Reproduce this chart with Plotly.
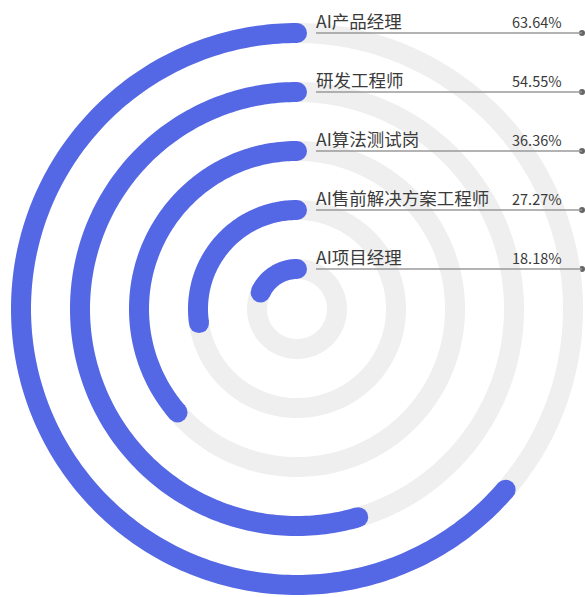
import numpy as np
import plotly.graph_objects as go

# Data (outermost ring first)
roles = ["AI产品经理", "研发工程师", "AI算法测试岗", "AI售前解决方案工程师", "AI项目经理"]
shares = [63.64, 54.55, 36.36, 27.27, 18.18]

W, H = 585, 597
CX, CY = 297, 309          # polar centre in pixels (from top-left)
INNER_PX = 40              # radius of innermost ring, px
STEP_PX = 59               # ring spacing, px
R_PX = 287                 # radius of the polar area, px
BAND = 20                  # ring thickness, px

BLUE = "#5468E6"
TRACK = "#EFEFEF"

# radial value k (1 = innermost) -> pixel radius INNER_PX + (k-1)*STEP_PX
r0 = 1 - INNER_PX / STEP_PX
r1 = r0 + R_PX / STEP_PX

fig = go.Figure()

n = len(roles)
for i, (name, pct) in enumerate(zip(roles, shares)):
    k = n - i  # outermost ring gets the largest radial value
    # background track
    th_full = np.linspace(0, 360, 361)
    fig.add_trace(go.Scatterpolar(
        r=[k] * len(th_full), theta=th_full, mode="lines",
        line=dict(color=TRACK, width=BAND), hoverinfo="skip",
        showlegend=False, cliponaxis=False))
for i, (name, pct) in enumerate(zip(roles, shares)):
    k = n - i
    end = pct / 100 * 360
    th = np.linspace(0, end, max(int(end), 2) + 1)
    fig.add_trace(go.Scatterpolar(
        r=[k] * len(th), theta=th, mode="lines",
        line=dict(color=BLUE, width=BAND), name=name,
        showlegend=False, cliponaxis=False))
    # round caps at both ends
    fig.add_trace(go.Scatterpolar(
        r=[k, k], theta=[0, end], mode="markers",
        marker=dict(color=BLUE, size=BAND, line=dict(width=0)),
        hoverinfo="skip", showlegend=False, cliponaxis=False))

fig.update_layout(
    width=W, height=H,
    margin=dict(l=0, r=0, t=0, b=0),
    paper_bgcolor="white",
    plot_bgcolor="rgba(0,0,0,0)",
    polar=dict(
        domain=dict(x=[(CX - R_PX) / W, (CX + R_PX) / W],
                    y=[(H - CY - R_PX) / H, (H - CY + R_PX) / H]),
        bgcolor="rgba(0,0,0,0)",
        radialaxis=dict(range=[r0, r1], visible=False),
        angularaxis=dict(rotation=90, direction="counterclockwise",
                         visible=False),
    ),
    xaxis=dict(range=[0, W], visible=False, domain=[0, 1], fixedrange=True),
    yaxis=dict(range=[H, 0], visible=False, domain=[0, 1], fixedrange=True),
)

# Label rows: name, value, leader line and end dot, aligned with each ring's top
LABEL_X, VALUE_X, LINE_END = 316, 564, 582
name_font = dict(family="Noto Sans CJK SC, Noto Sans, sans-serif", size=17.5, color="#3A3A3A")
value_font = dict(family="Noto Sans CJK SC, Noto Sans, sans-serif", size=14.5, color="#3A3A3A")
dot_x, dot_y = [], []
for i, (name, pct) in enumerate(zip(roles, shares)):
    k = n - i
    y_line = CY - (INNER_PX + (k - 1) * STEP_PX)
    fig.add_shape(type="line", xref="x", yref="y",
                  x0=LABEL_X, x1=LINE_END, y0=y_line, y1=y_line,
                  line=dict(color="#9A9A9A", width=1.5))
    fig.add_annotation(x=LABEL_X - 2, y=y_line + 2, xref="x", yref="y",
                       text=name, showarrow=False, xanchor="left",
                       yanchor="bottom", font=name_font)
    fig.add_annotation(x=VALUE_X, y=y_line + 1, xref="x", yref="y",
                       text=f"{pct:.2f}%", showarrow=False, xanchor="right",
                       yanchor="bottom", font=value_font)
    dot_x.append(LINE_END)
    dot_y.append(y_line)

fig.add_trace(go.Scatter(x=dot_x, y=dot_y, mode="markers",
                         marker=dict(color="#666666", size=6),
                         hoverinfo="skip", showlegend=False, cliponaxis=False))

fig.write_html("out.html")
